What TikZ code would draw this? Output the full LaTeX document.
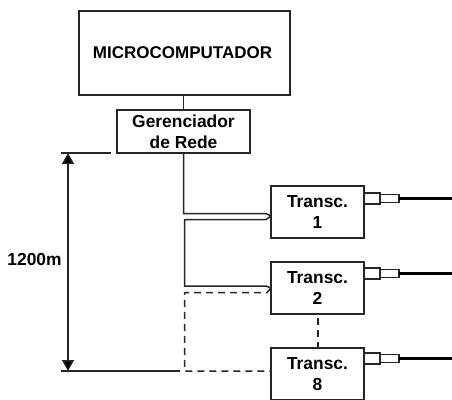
\documentclass[tikz,border=0pt]{standalone}
\usepackage{fontspec}
\setmainfont{Liberation Sans}
\usetikzlibrary{arrows.meta}
\definecolor{traco}{HTML}{262626}
\tikzset{
	caixa/.style={draw=traco,line width=1.5pt,outer sep=0pt,inner sep=0pt,align=center,text=black,
		font=\fontsize{17.4}{21}\selectfont\bfseries},
	transc/.style={caixa,minimum width=93pt,minimum height=52pt},
	plug/.style={draw=traco,line width=1.3pt,outer sep=0pt,inner sep=0pt,fill=white},
	fio/.style={draw=traco,line width=1.5pt},
	tracejado/.style={fio,dash pattern=on 7pt off 5pt},
	cabo/.style={draw=black,line width=2.6pt},
	seta/.style={fio,{Triangle[width=12pt,length=11pt,fill=black]}-{Triangle[width=12pt,length=11pt,fill=black]}}
}
\begin{document}
\begin{tikzpicture}[x=1pt,y=-1pt]
		\useasboundingbox (0,0) rectangle (452,399);
		\node[caixa,minimum width=211pt,minimum height=84pt] (micro) at (184.5,53) {};
		\node[font=\fontsize{17}{21}\selectfont\bfseries,inner sep=0pt] (microtxt) at (182.5,53) {MICROCOMPUTADOR};
		\node[caixa,minimum width=133pt,minimum height=43pt] (rede) at (183.5,131.5) {Gerenciador\\de Rede};
		\node[transc] (t1) at (317.5,212) {Transc.\\1};
		\node[transc] (t2) at (317.5,288) {Transc.\\2};
		\node[transc,anchor=north] (t8) at (317.5,348) {Transc.\\8};
		\node[caixa,draw=none] (dist) at (34.5,260) {1200m};
		% conectores
		\node[plug,minimum width=16pt,minimum height=11pt,anchor=west] (p1) at (t1.east |- 0,198.5) {};
		\node[plug,minimum width=19pt,minimum height=8pt,anchor=west] (q1) at (p1.east) {};
		\node[plug,minimum width=16pt,minimum height=11pt,anchor=west] (p2) at (t2.east |- 0,273.5) {};
		\node[plug,minimum width=19pt,minimum height=8pt,anchor=west] (q2) at (p2.east) {};
		\node[plug,minimum width=16pt,minimum height=11pt,anchor=west] (p8) at (t8.east |- 0,358.5) {};
		\node[plug,minimum width=19pt,minimum height=8pt,anchor=west] (q8) at (p8.east) {};
		\coordinate (c1) at (452,198.5);
		\coordinate (c2) at (452,273.5);
		\coordinate (c8) at (452,358.5);
		\path[cabo]
		(q1) edge (c1)
		(q2) edge (c2)
		(q8) edge (c8);
		% barramento
		\coordinate (a1) at (184.5,213.5);
		\coordinate (a2) at (266,213.5);
		\coordinate (k1) at (271,216);
		\coordinate (b1) at (266,219.5);
		\coordinate (b2) at (184.5,219.5);
		\coordinate (d1) at (184.5,286);
		\coordinate (d2) at (266,286);
		\coordinate (e1) at (267,292.5);
		\coordinate (e2) at (184.5,292.5);
		\coordinate (f1) at (184.5,371);
		\draw[fio] (micro.south -| rede.north) -- (rede.north);
		\draw[fio] (rede.south) -- (rede.south |- a1) -- (a1) -- (a2) -- (k1);
		\draw[fio] (k1) -- (b1) -- (b2) -- (d1) -- (d2) -- (t2.west);
		\draw[tracejado] (t2.west) -- (e1) -- (e2) -- (f1) -- (f1 -| t8.west);
		\draw[tracejado] (t2.south) ++(0.5,4) coordinate (g1) (g1) -- (g1 |- t8.north);
		% cota
		\coordinate (m1) at (61,153);
		\coordinate (m2) at (111,153);
		\coordinate (n1) at (61,371);
		\coordinate (n2) at (180,371);
		\coordinate (s1) at (68,153);
		\coordinate (s2) at (68,371);
		\draw[fio] (m1) -- (m2);
		\draw[fio] (n1) -- (n2);
		\draw[seta] (s1) -- (s2);
	\end{tikzpicture}
\end{document}
